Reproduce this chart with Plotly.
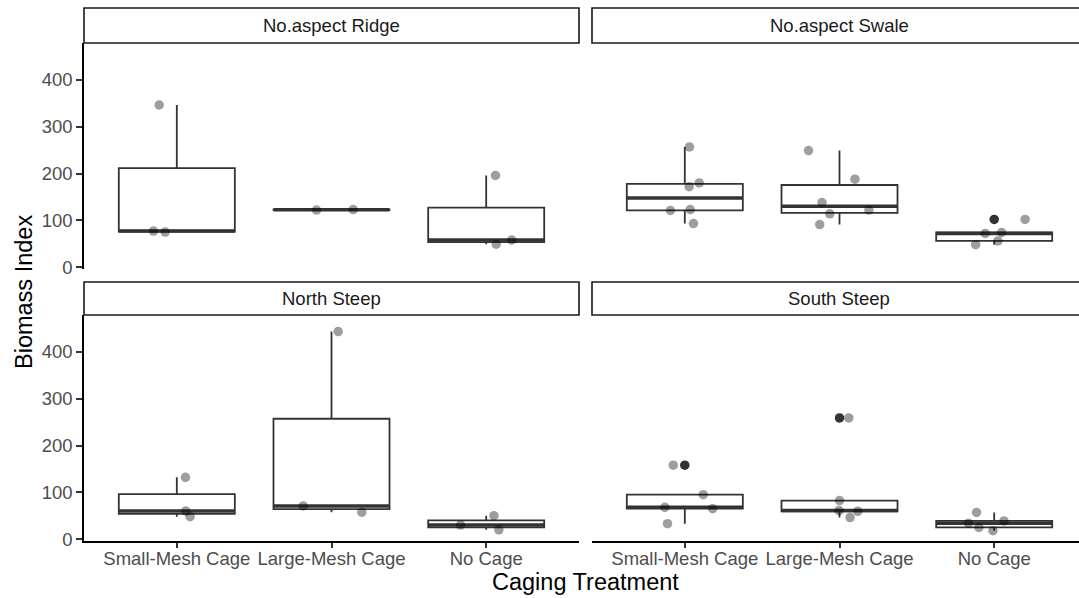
import numpy as np
import plotly.graph_objects as go
from plotly.subplots import make_subplots

# ── Data ──────────────────────────────────────────────────────────────────────
FACETS = ["No.aspect Ridge", "No.aspect Swale", "North Steep", "South Steep"]
TREATMENTS = ["Small-Mesh Cage", "Large-Mesh Cage", "No Cage"]
Y_TICKS = [0, 100, 200, 300, 400]

# biomass values per treatment (Small-Mesh, Large-Mesh, No Cage)
ridge_values = [[75, 77, 346.5], [122, 123], [49, 58, 196]]
swale_values = [[93, 121, 123, 172, 180, 257],
                [91, 114, 122, 138, 188, 249],
                [48, 56, 72, 74, 102]]
north_values = [[48, 60, 132], [57.5, 71, 443.5], [20, 30, 50]]
south_values = [[33, 65, 68, 95, 158],
                [46, 59.5, 61, 82.5, 259],
                [18, 25, 34, 39, 57]]

# horizontal jitter of each point (same order as the values)
ridge_jitter = [[-0.075, -0.151, -0.114], [-0.097, 0.14], [0.065, 0.165, 0.06]]
swale_jitter = [[0.056, -0.093, 0.035, 0.028, 0.093, 0.03],
                [-0.128, -0.063, 0.19, -0.113, 0.1, -0.2],
                [-0.12, 0.024, -0.058, 0.048, 0.2]]
north_jitter = [[0.086, 0.058, 0.056], [0.196, -0.183, 0.043], [0.082, -0.166, 0.05]]
south_jitter = [[-0.112, 0.18, -0.129, 0.119, -0.075],
                [0.068, 0.118, -0.003, 0.0, 0.06],
                [-0.008, -0.099, -0.166, 0.063, -0.114]]

FACET_VALUES = [ridge_values, swale_values, north_values, south_values]
FACET_JITTER = [ridge_jitter, swale_jitter, north_jitter, south_jitter]

# ── Styling ───────────────────────────────────────────────────────────────────
W, H = 1079, 598
FONT = "Liberation Sans, Arial, Helvetica, sans-serif"
BOX_COL = "#333333"
BOX_W = 0.75
YRANGE = [-4, 479]

# panel pixel boxes: (left, right, top, bottom)
PANELS = [(84, 579, 43, 269), (592, 1079, 43, 269),
          (84, 579, 315, 541), (592, 1079, 315, 541)]
STRIPS_Y = [(8, 43), (8, 43), (282, 315), (282, 315)]
PX_PER_UNIT = (579 - 84) / 3.2


def _box_stats(v):
    v = np.asarray(v, dtype=float)
    q1, med, q3 = np.percentile(v, [25, 50, 75])
    iqr = q3 - q1
    inside = v[(v >= q1 - 1.5 * iqr) & (v <= q3 + 1.5 * iqr)]
    out = v[(v < q1 - 1.5 * iqr) | (v > q3 + 1.5 * iqr)]
    return q1, med, q3, inside.min(), inside.max(), out


fig = make_subplots(rows=2, cols=2)

for i, (vals, jit) in enumerate(zip(FACET_VALUES, FACET_JITTER)):
    row, col = i // 2 + 1, i % 2 + 1
    pos = [1, 2, 3]
    stats = [_box_stats(v) for v in vals]

    fig.add_trace(go.Box(
        x=pos,
        q1=[s[0] for s in stats], median=[s[1] for s in stats],
        q3=[s[2] for s in stats],
        lowerfence=[s[3] for s in stats], upperfence=[s[4] for s in stats],
        width=BOX_W, whiskerwidth=0, boxpoints=False,
        fillcolor="white", line=dict(color=BOX_COL, width=1.8),
        showlegend=False, hoverinfo="skip",
    ), row=row, col=col)

    # thicker median bar (ggplot fatten = 2)
    mx, my = [], []
    for p, s in zip(pos, stats):
        mx += [p - BOX_W / 2, p + BOX_W / 2, None]
        my += [s[1], s[1], None]
    fig.add_trace(go.Scatter(
        x=mx, y=my, mode="lines", line=dict(color=BOX_COL, width=3.5),
        showlegend=False, hoverinfo="skip",
    ), row=row, col=col)

    # outliers
    ox, oy = [], []
    for p, s in zip(pos, stats):
        ox += [p] * len(s[5])
        oy += list(s[5])
    fig.add_trace(go.Scatter(
        x=ox, y=oy, mode="markers",
        marker=dict(color=BOX_COL, size=9.5, line_width=0),
        showlegend=False, hoverinfo="skip",
    ), row=row, col=col)

    # jittered points
    jx, jy = [], []
    for p, v, j in zip(pos, vals, jit):
        jx += [p + o for o in j]
        jy += list(v)
    fig.add_trace(go.Scatter(
        x=jx, y=jy, mode="markers",
        marker=dict(color="rgba(0,0,0,0.38)", size=9.5, line_width=0),
        showlegend=False, hoverinfo="skip",
    ), row=row, col=col)

# ── Axes ──────────────────────────────────────────────────────────────────────
tickfont = dict(family=FONT, size=18.5, color="#4D4D4D")
for i, (l, r, t, b) in enumerate(PANELS):
    n = "" if i == 0 else str(i + 1)
    bottom = i >= 2
    left = i % 2 == 0
    xr = [0.4, 0.4 + (r - l) / PX_PER_UNIT]
    fig.layout["xaxis" + n].update(
        domain=[l / W, r / W], range=xr, tickvals=[1, 2, 3], ticktext=TREATMENTS,
        showgrid=False, zeroline=False, showticklabels=bottom,
        showline=bottom, linecolor="black", linewidth=1.5,
        ticks="outside" if bottom else "", ticklen=5, tickwidth=1.5,
        tickcolor=BOX_COL, tickfont=tickfont, automargin=False,
        ticklabelstandoff=-5,
    )
    fig.layout["yaxis" + n].update(
        domain=[1 - b / H, 1 - t / H], range=YRANGE, tickvals=Y_TICKS,
        showgrid=False, zeroline=False, showticklabels=left,
        showline=left, linecolor="black", linewidth=1.5,
        ticks="outside" if left else "", ticklen=6, tickwidth=1.5,
        tickcolor=BOX_COL, tickfont=tickfont, automargin=False,
    )

# ── Facet strips ──────────────────────────────────────────────────────────────
shapes, annotations = [], []
for i, name in enumerate(FACETS):
    l, r, _, _ = PANELS[i]
    s_top, s_bot = STRIPS_Y[i]
    r_full = l + 3.2 * PX_PER_UNIT
    shapes.append(dict(
        type="rect", xref="paper", yref="paper",
        x0=l / W, x1=r_full / W, y0=1 - s_bot / H, y1=1 - s_top / H,
        line=dict(color="#1A1A1A", width=1.6), fillcolor="white", layer="below",
    ))
    annotations.append(dict(
        text=name, xref="paper", yref="paper",
        x=(l + r_full) / 2 / W, y=1 - (s_top + s_bot) / 2 / H,
        xanchor="center", yanchor="middle", showarrow=False,
        font=dict(family=FONT, size=18.5, color="#1A1A1A"),
    ))

annotations.append(dict(
    text="Caging Treatment", xref="paper", yref="paper",
    x=585 / W, y=1 - 582 / H, xanchor="center", yanchor="middle",
    showarrow=False, font=dict(family=FONT, size=23.5, color="black"),
))
annotations.append(dict(
    text="Biomass Index", xref="paper", yref="paper",
    x=24 / W, y=1 - 292 / H, xanchor="center", yanchor="middle",
    textangle=-90, showarrow=False,
    font=dict(family=FONT, size=23.5, color="black"),
))

fig.update_layout(
    width=W, height=H,
    margin=dict(l=0, r=0, t=0, b=0),
    paper_bgcolor="white", plot_bgcolor="white",
    shapes=shapes, annotations=annotations,
    showlegend=False,
)

# drop the page's default body margin so the figure sits at the window corner
fig.write_html("out.html", config={"displayModeBar": False},
               post_script="document.body.style.margin='0';")
